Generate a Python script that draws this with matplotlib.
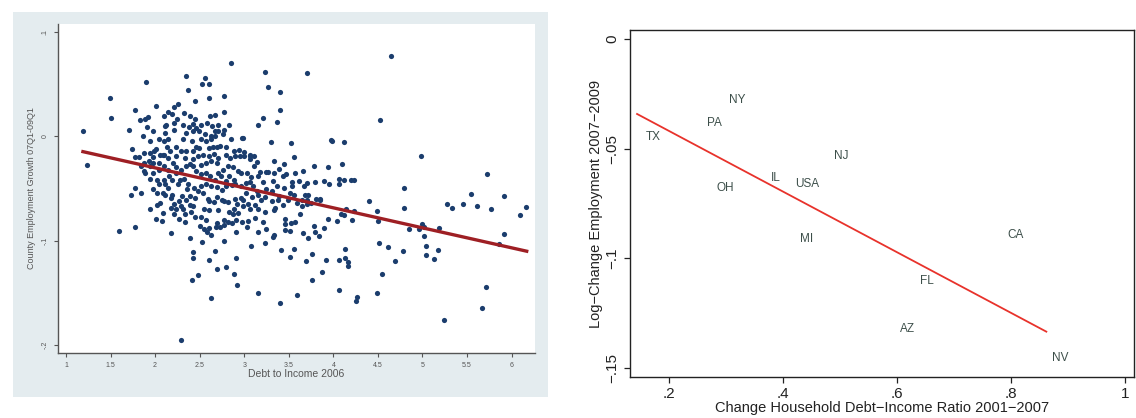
import matplotlib.pyplot as plt
from matplotlib.patches import Rectangle
import numpy as np

plt.rcParams['font.family'] = ['Liberation Sans', 'DejaVu Sans']

# ---- left panel: county scatter (debt to income 2006 vs employment growth)
county_debt = [
    1.19, 1.24, 1.49, 1.51, 1.60, 1.71, 1.78, 1.78, 1.73, 1.77, 1.84, 1.90, 2.01, 1.94, 2.01, 2.08,
    2.18, 2.29, 2.35, 2.37, 2.56, 2.61, 2.53, 2.61, 2.77, 2.85, 2.45, 2.26, 2.21, 2.15, 2.32, 3.23,
    3.27, 3.40, 3.40, 3.71, 4.65, 4.52, 3.21, 3.37, 3.15, 2.98, 3.30, 3.52, 3.97, 3.99, 4.12, 4.98,
    5.72, 4.79, 4.40, 5.54, 5.46, 5.61, 5.27, 5.33, 5.92, 5.77, 6.16, 6.10, 4.79, 4.49, 4.50, 4.21,
    4.99, 5.02, 4.85, 4.96, 5.19, 5.02, 5.04, 5.04, 5.18, 5.13, 5.91, 5.86, 4.51, 4.61, 4.78, 4.69,
    4.55, 4.49, 5.71, 5.67, 5.24, 4.27, 4.25, 4.06, 4.13, 4.13, 4.16, 4.16, 4.06, 3.92, 3.87, 3.76,
    3.69, 3.76, 3.59, 3.40, 3.15, 3.51, 3.56, 3.41, 3.08, 3.23, 2.91, 2.89, 2.92, 2.69, 2.80, 2.67,
    2.60, 2.63, 2.48, 2.41, 2.43, 2.43, 2.39, 2.53, 2.77, 3.90, 3.84, 3.72, 3.66, 3.79, 3.33, 3.32,
    3.46, 3.46, 3.57, 3.53, 3.46, 3.94, 4.04, 4.12, 4.09, 4.23, 4.14, 3.63, 3.78, 3.23, 3.33, 3.03,
    2.98, 2.91, 3.04, 3.95, 4.06, 4.12, 4.20, 4.23, 4.06, 4.10, 3.94, 3.90, 3.79, 3.70, 3.66, 3.57,
    3.56, 3.45, 3.47, 3.45, 3.54, 3.56, 3.51, 3.68, 3.72, 3.70, 3.70, 3.81, 3.85, 3.78, 3.33, 3.32,
    3.24, 3.18, 3.14, 3.31, 3.38, 3.35, 3.44, 3.23, 3.15, 3.10, 3.14, 3.04, 2.99, 3.12, 3.06, 3.00,
    2.95, 2.90, 2.84, 2.79, 2.80, 2.73, 2.69, 2.65, 2.61, 2.49, 2.83, 2.77, 2.67, 2.62, 2.64, 2.56,
    2.49, 2.46, 2.43, 2.38, 2.35, 2.41, 2.46, 2.43, 2.35, 2.31, 2.33, 2.21, 2.21, 2.11, 2.11, 2.14,
    2.10, 2.13, 2.17, 2.15, 2.10, 2.01, 1.99, 2.06, 1.98, 1.94, 1.88, 1.87, 1.89, 1.94, 1.82, 1.78,
    1.74, 1.83, 1.89, 1.92, 1.86, 1.98, 1.91, 2.09, 2.20, 2.23, 2.14, 2.16, 2.10, 2.11, 2.15, 2.19,
    2.09, 2.11, 2.19, 2.26, 2.28, 2.32, 2.37, 2.36, 2.30, 2.27, 2.21, 2.18, 2.31, 2.34, 2.33, 2.27,
    2.21, 2.09, 2.02, 2.06, 2.43, 2.39, 2.40, 2.45, 2.50, 2.55, 2.58, 2.63, 2.61, 2.68, 2.73, 2.77,
    2.82, 2.77, 2.83, 2.87, 2.93, 2.88, 2.92, 2.90, 2.96, 2.82, 2.77, 2.75, 2.70, 2.66, 2.61, 2.59,
    2.55, 2.61, 2.71, 2.54, 2.48, 2.44, 2.51, 2.57, 2.63, 2.69, 2.75, 2.80, 2.86, 2.90, 2.96, 3.02,
    3.06, 3.08, 3.03, 2.96, 2.93, 2.87, 2.82, 2.76, 2.71, 2.74, 2.83, 2.89, 2.79, 2.67, 2.62, 2.57,
    2.51, 2.46, 2.43, 2.39, 2.51, 2.57, 2.63, 2.69, 2.71, 2.66, 2.60, 2.54, 2.48, 2.43, 2.35, 2.29,
    2.24, 2.24, 2.24, 2.29, 2.51, 2.57, 2.63, 2.67, 2.71, 2.76, 2.67, 2.63, 2.85, 2.89, 2.94, 3.00,
    3.07, 3.11, 3.15, 3.21, 3.27, 3.25, 3.19, 3.09, 3.02, 2.99, 3.06, 3.15, 3.21, 3.12, 2.91, 2.86,
    2.69, 2.57, 2.51, 2.45, 2.39, 2.35, 2.29, 2.24, 2.18, 2.02, 1.98, 2.04, 2.02, 1.98, 2.04, 2.10,
    2.04, 1.98, 1.93, 1.88, 1.94, 1.84, 1.94, 2.04, 2.10, 2.12, 2.19, 2.25, 2.31, 2.39, 2.43, 2.51,
    2.45, 2.58, 2.71, 2.77, 2.99, 3.07, 3.11, 3.33, 3.39, 3.43, 3.37, 3.31, 3.39, 3.49, 3.59, 3.65,
    3.75, 3.85, 3.65, 3.67, 3.61, 3.54, 3.15, 3.25, 3.51,
]
county_growth = [
    0.005, -0.028, 0.037, 0.017, -0.091, 0.006, 0.025, -0.087, -0.056, -0.050, -0.054, 0.052, 0.029, -0.070, -0.079, -0.081,
    -0.093, -0.195, 0.058, 0.044, 0.056, 0.050, 0.050, 0.037, 0.038, 0.070, 0.034, 0.031, 0.028, 0.023, 0.022, 0.061,
    0.047, 0.042, 0.025, 0.060, 0.077, 0.015, 0.017, 0.014, 0.011, -0.002, -0.006, -0.007, -0.004, -0.005, -0.006, -0.019,
    -0.036, -0.050, -0.062, -0.055, -0.065, -0.067, -0.065, -0.069, -0.057, -0.070, -0.068, -0.076, -0.069, -0.072, -0.081, -0.080,
    -0.084, -0.087, -0.089, -0.089, -0.088, -0.096, -0.105, -0.114, -0.109, -0.118, -0.094, -0.103, -0.102, -0.106, -0.110, -0.120,
    -0.132, -0.150, -0.144, -0.165, -0.176, -0.154, -0.158, -0.147, -0.108, -0.117, -0.121, -0.124, -0.119, -0.119, -0.130, -0.113,
    -0.120, -0.138, -0.152, -0.160, -0.150, -0.116, -0.108, -0.109, -0.105, -0.102, -0.117, -0.132, -0.143, -0.127, -0.125, -0.110,
    -0.119, -0.155, -0.133, -0.138, -0.117, -0.111, -0.098, -0.101, -0.100, -0.088, -0.096, -0.098, -0.093, -0.092, -0.095, -0.097,
    -0.090, -0.084, -0.082, -0.083, -0.079, -0.079, -0.081, -0.076, -0.075, -0.072, -0.070, -0.075, -0.086, -0.073, -0.071, -0.087,
    -0.082, -0.092, -0.081, -0.046, -0.041, -0.042, -0.042, -0.042, -0.046, -0.027, -0.030, -0.043, -0.044, -0.045, -0.033, -0.035,
    -0.020, -0.027, -0.036, -0.050, -0.048, -0.056, -0.054, -0.056, -0.056, -0.065, -0.061, -0.060, -0.060, -0.029, -0.035, -0.043,
    -0.034, -0.034, -0.025, -0.062, -0.061, -0.069, -0.066, -0.058, -0.056, -0.048, -0.053, -0.065, -0.067, -0.066, -0.019, -0.019,
    -0.019, -0.019, -0.021, -0.018, -0.010, -0.009, -0.010, -0.010, -0.011, -0.011, 0.011, 0.023, 0.020, 0.019, 0.010, 0.002,
    0.005, 0.008, 0.012, 0.009, 0.003, -0.005, -0.010, -0.014, -0.014, -0.003, -0.021, 0.006, 0.013, 0.010, 0.003, -0.003,
    -0.005, -0.010, -0.014, -0.021, -0.018, -0.012, -0.014, -0.018, -0.020, -0.016, -0.016, -0.033, -0.035, -0.041, -0.020, -0.020,
    -0.012, 0.015, 0.016, 0.018, 0.000, 0.005, 0.009, -0.018, -0.026, -0.030, -0.032, -0.038, -0.042, -0.046, -0.050, -0.042,
    -0.054, -0.056, -0.056, -0.046, -0.042, -0.041, -0.046, -0.051, -0.057, -0.062, -0.065, -0.069, -0.070, -0.075, -0.082, -0.079,
    -0.075, -0.074, -0.066, -0.064, -0.067, -0.066, -0.073, -0.077, -0.086, -0.089, -0.092, -0.095, -0.088, -0.087, -0.087, -0.085,
    -0.082, -0.080, -0.073, -0.075, -0.074, -0.070, -0.065, -0.060, -0.059, -0.063, -0.062, -0.061, -0.058, -0.063, -0.062, -0.060,
    -0.070, -0.071, -0.071, -0.054, -0.053, -0.050, -0.048, -0.046, -0.048, -0.049, -0.052, -0.048, -0.047, -0.046, -0.048, -0.045,
    -0.044, -0.039, -0.035, -0.035, -0.033, -0.030, -0.029, -0.032, -0.035, -0.038, -0.038, -0.042, -0.043, -0.042, -0.038, -0.035,
    -0.036, -0.033, -0.029, -0.027, -0.028, -0.026, -0.024, -0.026, -0.021, -0.017, -0.019, -0.018, -0.019, -0.022, -0.029, -0.032,
    -0.035, -0.019, -0.010, -0.014, -0.003, -0.005, -0.003, 0.000, 0.005, 0.002, 0.005, 0.000, -0.003, -0.014, -0.013, -0.015,
    -0.022, -0.029, -0.038, -0.044, -0.034, -0.051, -0.061, -0.058, -0.054, -0.061, -0.070, -0.070, -0.082, -0.078, -0.080, -0.083,
    -0.083, -0.080, -0.077, -0.059, -0.057, -0.061, -0.067, -0.070, -0.059, -0.054, -0.051, -0.046, -0.042, -0.035, -0.032, -0.029,
    -0.026, -0.026, -0.024, -0.026, -0.029, -0.029, -0.005, -0.003, 0.019, 0.011, 0.021, 0.016, 0.011, 0.019, 0.005, 0.011,
    0.016, 0.013, 0.011, 0.006, -0.002, -0.018, -0.019, -0.024, -0.031, -0.038, -0.048, -0.053, -0.057, -0.061, -0.064, -0.067,
    -0.064, -0.061, -0.061, -0.048, -0.043, -0.044, -0.092, -0.089, -0.091,
]
county_fit_x = [1.19, 6.17]
county_fit_slope = -0.01915
county_fit_icpt = 0.00795

# ---- right panel: states
states = ['NY', 'PA', 'TX', 'NJ', 'IL', 'USA', 'OH', 'MI', 'CA', 'FL', 'AZ', 'NV']
state_debt = [0.319, 0.279, 0.172, 0.502, 0.388, 0.443, 0.299, 0.442, 0.808, 0.653, 0.618, 0.887]
state_emp = [-0.0277, -0.0384, -0.0445, -0.0531, -0.0632, -0.0662, -0.0677, -0.0913, -0.0893, -0.1106, -0.1322, -0.1453]
state_fit_x = [0.144, 0.862]
state_fit_slope = -0.1384
state_fit_icpt = -0.0142

W, H = 1136, 418
fig = plt.figure(figsize=(W / 100, H / 100), dpi=100)

# light blue-grey graph region behind the left chart
fig.patches.append(Rectangle((13 / W, 1 - 397 / H), (548 - 13) / W, (397 - 12) / H,
                             transform=fig.transFigure, facecolor='#e4ecef',
                             edgecolor='none', zorder=-1))

ax1 = fig.add_axes([57.7 / W, 1 - 352.7 / H, (535 - 57.7) / W, (352.7 - 24) / H])
ax1.set_zorder(2)
ax1.set_facecolor('white')
ax1.scatter(county_debt, county_growth, s=14, color='#1b3d6d', linewidths=0, zorder=3)
fx = np.array(county_fit_x)
ax1.plot(fx, county_fit_icpt + county_fit_slope * fx, color='#9e1f24', lw=2.4, zorder=4)
ax1.set_xlim(0.907, 6.263)
ax1.set_ylim(-0.2074, 0.1074)
ax1.spines['top'].set_visible(False)
ax1.spines['right'].set_visible(False)
for s in ['left', 'bottom']:
    ax1.spines[s].set_color('#555555')
    ax1.spines[s].set_linewidth(1.0)
ax1.set_xticks([1, 1.5, 2, 2.5, 3, 3.5, 4, 4.5, 5, 5.5, 6])
ax1.set_xticklabels(['1', '1.5', '2', '2.5', '3', '3.5', '4', '4.5', '5', '5.5', '6'])
ax1.set_yticks([0.1, 0, -0.1, -0.2])
ax1.set_yticklabels(['.1', '0', '-.1', '-.2'], rotation=90, va='center')
ax1.tick_params(labelsize=5, colors='#555555', length=3, width=0.8)
ax1.set_xlabel('Debt to Income 2006', fontsize=7.5, color='#555555', labelpad=0)
ax1.set_ylabel('County Employment Growth 07Q1-09Q1', fontsize=6.5, color='#555555', labelpad=4)

# ---- right chart
ax2 = fig.add_axes([630 / W, 1 - 377 / H, 504 / W, 347 / H])
ax2.set_zorder(2)
for st, x, y in zip(states, state_debt, state_emp):
    ax2.text(x, y, st, fontsize=8.5, color='#3d4f4a', ha='center', va='center')
sx = np.array(state_fit_x)
ax2.plot(sx, state_fit_icpt + state_fit_slope * sx, color='#e8322b', lw=1.3)
ax2.set_xlim(0.1316, 1.0158)
ax2.set_ylim(-0.1542, 0.0042)
ax2.set_xticks([0.2, 0.4, 0.6, 0.8, 1])
ax2.set_xticklabels(['.2', '.4', '.6', '.8', '1'])
ax2.set_yticks([0, -0.05, -0.1, -0.15])
ax2.set_yticklabels(['0', '\u2212.05', '\u2212.1', '\u2212.15'], rotation=90, va='center')
ax2.tick_params(labelsize=11, colors='#222222', length=4, width=0.9)
for s in ax2.spines.values():
    s.set_color('#222222')
    s.set_linewidth(1.0)
ax2.set_xlabel('Change Household Debt\u2212Income Ratio 2001\u22122007', fontsize=10.5,
               color='#222222', labelpad=0)
ax2.set_ylabel('Log\u2212Change Employment 2007\u22122009', fontsize=10.5, color='#222222', labelpad=2)

fig.savefig('out.png', dpi=100)
